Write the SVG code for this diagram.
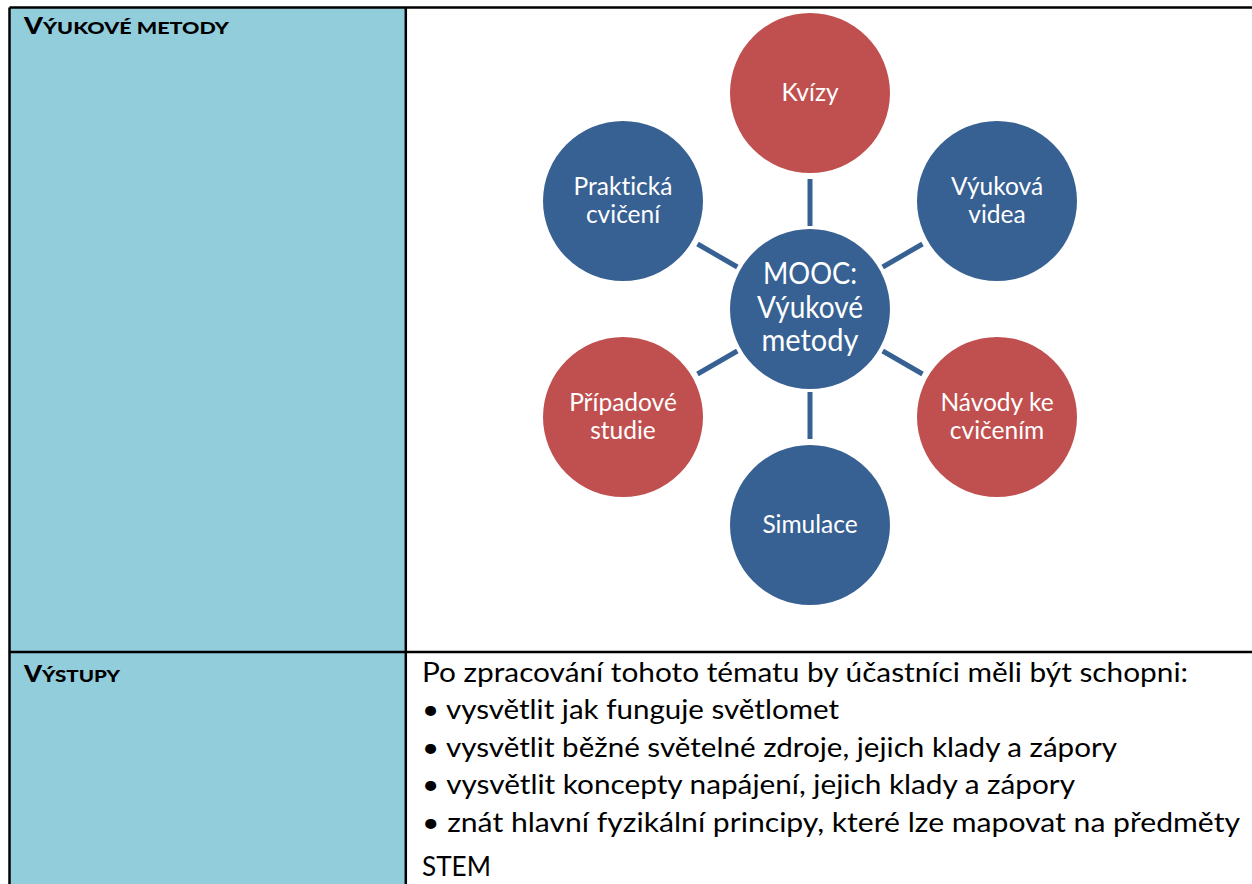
<svg xmlns="http://www.w3.org/2000/svg" width="1252" height="884" viewBox="0 0 1252 884">
<style>
text{font-variant-ligatures:none;font-feature-settings:"liga" 0,"clig" 0}
.hdr{font-family:Lato,"Open Sans",sans-serif;font-weight:900;fill:#000}
.body{font-family:Lato,"Open Sans",sans-serif;font-size:27px;fill:#000}
.nt{font-family:Lato,"Open Sans",sans-serif;font-size:24.5px;fill:#fff;text-anchor:middle}
.ct{font-family:Lato,"Open Sans",sans-serif;font-size:30px;fill:#fff;text-anchor:middle}
.blue{fill:#386193}
.red{fill:#C0504F}
.conn line{stroke:#386193;stroke-width:5}
.grid{stroke:#000;stroke-width:2.5;fill:none}
</style>
<rect x="0" y="0" width="1252" height="884" fill="#fff"/>
<rect x="9.5" y="7.5" width="396" height="877" fill="#92CDDC"/>
<g id="table">
<line class="grid" x1="9.5" y1="7.5" x2="1252" y2="7.5"/>
<line class="grid" x1="9.5" y1="7.5" x2="9.5" y2="884"/>
<line class="grid" x1="405.8" y1="7.5" x2="405.8" y2="884"/>
<line class="grid" x1="9.5" y1="652" x2="1252" y2="652"/>
</g>
<g id="headers">
<text class="hdr" x="24" y="34" font-size="22" textLength="205" lengthAdjust="spacingAndGlyphs">V<tspan font-size="17.5">ÝUKOVÉ METODY</tspan></text>
<text class="hdr" x="24" y="682" font-size="22" textLength="96" lengthAdjust="spacingAndGlyphs">V<tspan font-size="17.5">ÝSTUPY</tspan></text>
</g>
<g id="outputs">
<text class="body" x="422" y="682" textLength="766" lengthAdjust="spacingAndGlyphs">Po zpracování tohoto tématu by účastníci měli být schopni:</text>
<text class="body" x="422" y="719" textLength="417" lengthAdjust="spacingAndGlyphs">• vysvětlit jak funguje světlomet</text>
<text class="body" x="422" y="757" textLength="695" lengthAdjust="spacingAndGlyphs">• vysvětlit běžné světelné zdroje, jejich klady a zápory</text>
<text class="body" x="422" y="794" textLength="653" lengthAdjust="spacingAndGlyphs">• vysvětlit koncepty napájení, jejich klady a zápory</text>
<text class="body" x="422" y="832" textLength="818" lengthAdjust="spacingAndGlyphs">• znát hlavní fyzikální principy, které lze mapovat na předměty</text>
<text class="body" x="422" y="876" textLength="69" lengthAdjust="spacingAndGlyphs">STEM</text>
</g>
<g id="connectors" class="conn">
<line x1="810" y1="179" x2="810" y2="226"/>
<line x1="810" y1="439" x2="810" y2="392"/>
<line x1="697.5" y1="244" x2="737.3" y2="267"/>
<line x1="922.5" y1="244" x2="882.7" y2="267"/>
<line x1="697.5" y1="374" x2="737.3" y2="351"/>
<line x1="922.5" y1="374" x2="882.7" y2="351"/>
</g>
<g id="center">
<circle class="blue" cx="810" cy="309" r="80"/>
<text class="ct" x="810" y="284" textLength="94" lengthAdjust="spacingAndGlyphs">MOOC:</text>
<text class="ct" x="810" y="318" textLength="106" lengthAdjust="spacingAndGlyphs">Výukové</text>
<text class="ct" x="810" y="351" textLength="97" lengthAdjust="spacingAndGlyphs">metody</text>
</g>
<g id="kvizy">
<circle class="red" cx="810" cy="93" r="80"/>
<text class="nt" x="810" y="101">Kvízy</text>
</g>
<g id="vyukova-videa">
<circle class="blue" cx="997" cy="201" r="80"/>
<text class="nt" x="997" y="195">Výuková</text>
<text class="nt" x="997" y="223">videa</text>
</g>
<g id="navody">
<circle class="red" cx="997" cy="417" r="80"/>
<text class="nt" x="997" y="411">Návody ke</text>
<text class="nt" x="997" y="439">cvičením</text>
</g>
<g id="simulace">
<circle class="blue" cx="810" cy="525" r="80"/>
<text class="nt" x="810" y="533">Simulace</text>
</g>
<g id="pripadove">
<circle class="red" cx="623" cy="417" r="80"/>
<text class="nt" x="623" y="411">Případové</text>
<text class="nt" x="623" y="439">studie</text>
</g>
<g id="prakticka">
<circle class="blue" cx="623" cy="201" r="80"/>
<text class="nt" x="623" y="195">Praktická</text>
<text class="nt" x="623" y="223">cvičení</text>
</g>
</svg>
